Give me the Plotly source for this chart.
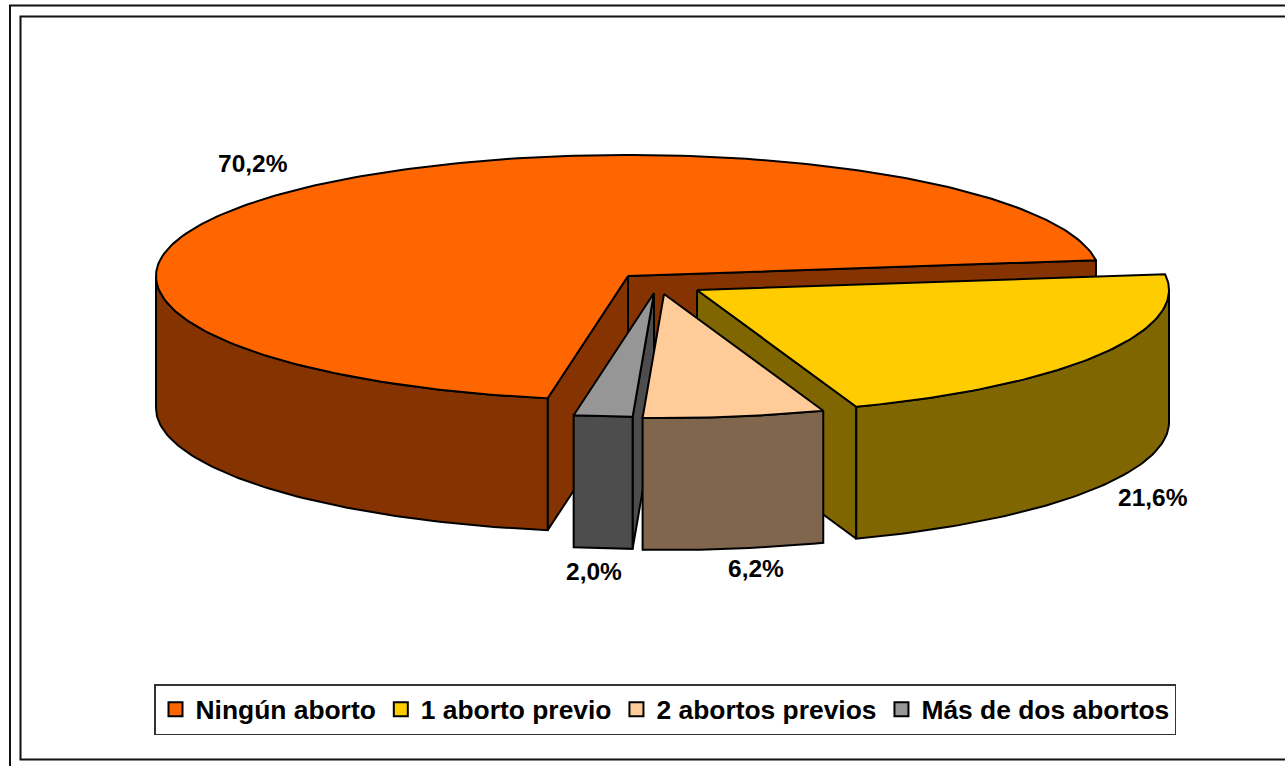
import numpy as np
import plotly.graph_objects as go

categorias = ["Ningún aborto", "1 aborto previo", "2 abortos previos", "Más de dos abortos"]
valores = [70.2, 21.6, 6.2, 2.0]
etiquetas = ["70,2%", "21,6%", "6,2%", "2,0%"]
color_cara = ["#FF6600", "#FFCC00", "#FFCC99", "#969696"]
color_lado = ["#853300", "#806600", "#80664D", "#4D4D4D"]

# layout of the exploded 3-D pie (pixel-based axis units)
ANG_INICIO = 260.2
CENTROS = [(628, 276), (697, 290), (664, 294), (654, 293)]
POS_ETIQ = [(253, 163), (1153, 497), (756, 568), (594, 571)]
A, B_FONDO, B_FRENTE, PROF = 472, 121, 124, 132
ORDEN = [0, 1, 3, 2]

fig = go.Figure()


def punto(c, ang):
    r = np.radians(ang)
    s = np.sin(r)
    b = np.where(s < 0, B_FRENTE, B_FONDO)
    return c[0] + A * np.cos(r), c[1] - b * s


def poly(x, y, color):
    x = np.append(x, x[0])
    y = np.append(y, y[0])
    fig.add_trace(go.Scatter(x=x, y=y, mode="lines", fill="toself", fillcolor=color,
                             line=dict(color="black", width=2), showlegend=False,
                             hoverinfo="skip"))


angulos = [ANG_INICIO]
for v in valores:
    angulos.append(angulos[-1] - 3.6 * v)

for i in ORDEN:
    c, a0, a1 = CENTROS[i], angulos[i], angulos[i + 1]
    arco = np.unique(np.concatenate([np.arange(a1, a0, 1.0), [a0, a1],
                                     [k for k in (0.0, 180.0) if a1 < k < a0]]))[::-1]
    # radial walls that face the viewer
    for borde, visible in ((a1, np.cos(np.radians(a1)) > 0), (a0, np.cos(np.radians(a0)) < 0)):
        if visible:
            px, py = punto(c, borde)
            poly(np.array([c[0], px, px, c[0]]), np.array([c[1], py, py + PROF, c[1] + PROF]), color_lado[i])
    # outer rim
    frente = arco[np.sin(np.radians(arco)) <= 1e-9]
    if len(frente) > 1:
        fx, fy = punto(c, frente)
        poly(np.concatenate([fx, fx[::-1]]), np.concatenate([fy, fy[::-1] + PROF]), color_lado[i])
    # top face
    tx, ty = punto(c, arco)
    poly(np.concatenate([[c[0]], tx]), np.concatenate([[c[1]], ty]), color_cara[i])

for nombre, color in zip(categorias, color_cara):
    fig.add_trace(go.Scatter(x=[None], y=[None], mode="markers", name=nombre,
                             marker=dict(symbol="square", size=14, color=color,
                                         line=dict(color="black", width=2))))

for txt, (x, y) in zip(etiquetas, POS_ETIQ):
    fig.add_annotation(x=x, y=y, text=txt, showarrow=False, xanchor="center", yanchor="middle",
                       font=dict(family="Liberation Sans", size=24.5, color="black", weight="bold"))

marco = dict(type="rect", xref="x", yref="y", fillcolor="rgba(0,0,0,0)", layer="below",
             line=dict(color="#111111", width=2))
fig.add_shape(x0=10, y0=5.5, x1=1300, y1=790, **marco)
fig.add_shape(x0=20.5, y0=16.5, x1=1300, y1=759.5, **marco)

fig.update_layout(
    width=1285, height=766, margin=dict(l=0, r=0, t=0, b=0),
    paper_bgcolor="white", plot_bgcolor="white",
    xaxis=dict(range=[0, 1285], visible=False),
    yaxis=dict(range=[766, 0], visible=False),
    legend=dict(orientation="h", x=154 / 1285, y=1 - 684 / 766, xanchor="left", yanchor="top",
                bgcolor="white", bordercolor="#333333", borderwidth=1.5,
                font=dict(family="Liberation Sans", size=26.4, color="black", weight="bold")),
)

fig.write_html("out.html", config={"displayModeBar": False},
               post_script="document.body.style.margin='0';document.documentElement.style.overflow='hidden';")
